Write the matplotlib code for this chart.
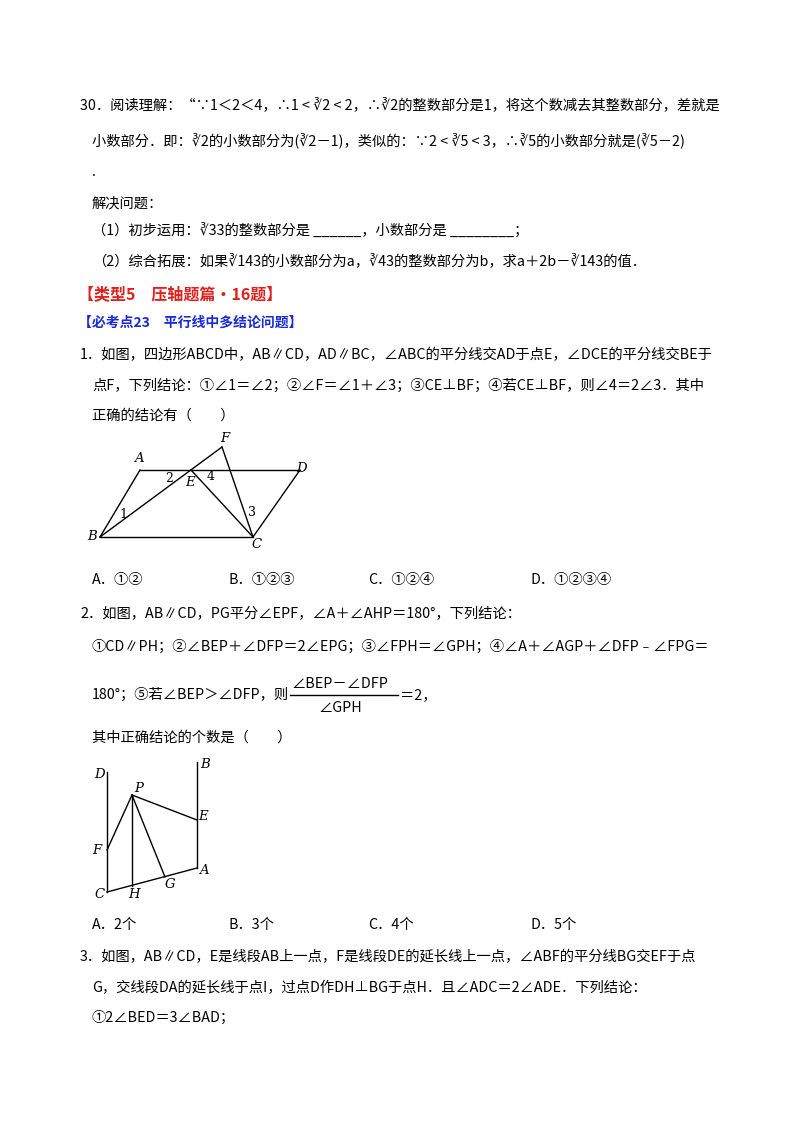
import matplotlib
matplotlib.use("Agg")
import matplotlib.pyplot as plt

plt.rcParams['font.family'] = ['Noto Sans CJK SC', 'DejaVu Sans']

# 正文行: (x, y, 文本)
body_lines = [
    (80, 105, "30．阅读理解：“∵1＜2＜4，∴1 < ∛2 < 2，∴∛2的整数部分是1，将这个数减去其整数部分，差就是"),
    (92, 140, "小数部分．即：∛2的小数部分为(∛2－1)，类似的：∵2 < ∛5 < 3，∴∛5的小数部分就是(∛5－2)"),
    (92, 172, "."),
    (92, 203, "解决问题："),
    (92, 230, "（1）初步运用：∛33的整数部分是 ______，小数部分是 ________；"),
    (92, 261, "（2）综合拓展：如果∛143的小数部分为a，∛43的整数部分为b，求a＋2b－∛143的值．"),
    (80, 355, "1．如图，四边形ABCD中，AB∥CD，AD∥BC，∠ABC的平分线交AD于点E，∠DCE的平分线交BE于"),
    (92, 386, "点F，下列结论：①∠1＝∠2；②∠F＝∠1＋∠3；③CE⊥BF；④若CE⊥BF，则∠4＝2∠3．其中"),
    (92, 416, "正确的结论有（　　）"),
    (80, 613, "2．如图，AB∥CD，PG平分∠EPF，∠A＋∠AHP＝180°，下列结论："),
    (92, 647, "①CD∥PH；②∠BEP＋∠DFP＝2∠EPG；③∠FPH＝∠GPH；④∠A＋∠AGP＋∠DFP﹣∠FPG＝"),
    (92, 695, "180°；⑤若∠BEP＞∠DFP，则"),
    (400, 695, "＝2，"),
    (92, 738, "其中正确结论的个数是（　　）"),
    (80, 957, "3．如图，AB∥CD，E是线段AB上一点，F是线段DE的延长线上一点，∠ABF的平分线BG交EF于点"),
    (92, 988, "G，交线段DA的延长线于点I，过点D作DH⊥BG于点H．且∠ADC＝2∠ADE．下列结论："),
    (92, 1018, "①2∠BED＝3∠BAD；"),
]
headings = [
    (78, 294, "【类型5　压轴题篇·16题】", "#e0201b", 11.5),
    (78, 323, "【必考点23　平行线中多结论问题】", "#1a2bd6", 10),
]
options_x = [92, 228, 368, 530]
options_1 = ["A．①②", "B．①②③", "C．①②④", "D．①②③④"]
options_2 = ["A．2个", "B．3个", "C．4个", "D．5个"]
frac_num, frac_den = "∠BEP－∠DFP", "∠GPH"

# 图1 顶点
fig1_pts = {"A": (140, 470), "D": (300, 470), "B": (100, 537), "C": (253, 537),
            "E": (191, 470), "F": (222, 447)}
fig1_segs = [("B", "A"), ("A", "D"), ("D", "C"), ("B", "C"), ("B", "F"), ("F", "C"), ("E", "C")]
fig1_labels = {"A": (-1, -12), "D": (2, -2), "B": (-8, 0), "C": (4, 8), "E": (-1, 12),
               "F": (3, -8)}
fig1_nums = [("1", 123, 515), ("2", 169, 478), ("4", 211, 476), ("3", 252, 513)]

# 图2 顶点
fig2_pts = {"D": (107, 772), "C": (107, 892), "B": (197, 762), "A": (197, 868),
            "P": (132, 795), "H": (132, 886), "F": (107, 850), "G": (165, 877),
            "E": (197, 820)}
fig2_segs = [("D", "C"), ("B", "A"), ("C", "A"), ("F", "P"), ("P", "H"), ("P", "G"), ("P", "E")]
fig2_labels = {"D": (-7, 3), "C": (-7, 2), "B": (8, 2), "A": (7, 2), "P": (7, -6),
               "H": (2, 8), "F": (-10, 0), "G": (5, 8), "E": (6, -4)}

fig = plt.figure(figsize=(8, 11.32), dpi=100)
ax = fig.add_axes([0, 0, 1, 1])
ax.set_xlim(0, 800)
ax.set_ylim(1132, 0)
ax.axis("off")

fs = 10.3
for x, y, s in body_lines:
    ax.text(x, y, s, fontsize=fs, va="center", ha="left")
for x, y, s, c, size in headings:
    ax.text(x, y, s, fontsize=size, va="center", ha="left", color=c, fontweight="bold")
for x, s in zip(options_x, options_1):
    ax.text(x, 580, s, fontsize=fs, va="center")
for x, s in zip(options_x, options_2):
    ax.text(x, 925, s, fontsize=fs, va="center")

# 分式
ax.text(340, 684, frac_num, fontsize=fs, va="center", ha="center", style="italic")
ax.plot([290, 398], [695, 695], color="black", lw=1)
ax.text(340, 708, frac_den, fontsize=fs, va="center", ha="center", style="italic")

def draw_fig(pts, segs, labels):
    for a, b in segs:
        ax.plot([pts[a][0], pts[b][0]], [pts[a][1], pts[b][1]], color="black", lw=1)
    for k, (dx, dy) in labels.items():
        ax.text(pts[k][0] + dx, pts[k][1] + dy, k, fontsize=9.5, style="italic",
                family="DejaVu Serif", ha="center", va="center")

draw_fig(fig1_pts, fig1_segs, fig1_labels)
for s, x, y in fig1_nums:
    ax.text(x, y, s, fontsize=9, family="DejaVu Serif", ha="center", va="center")
draw_fig(fig2_pts, fig2_segs, fig2_labels)

fig.savefig("out.png", dpi=100)
